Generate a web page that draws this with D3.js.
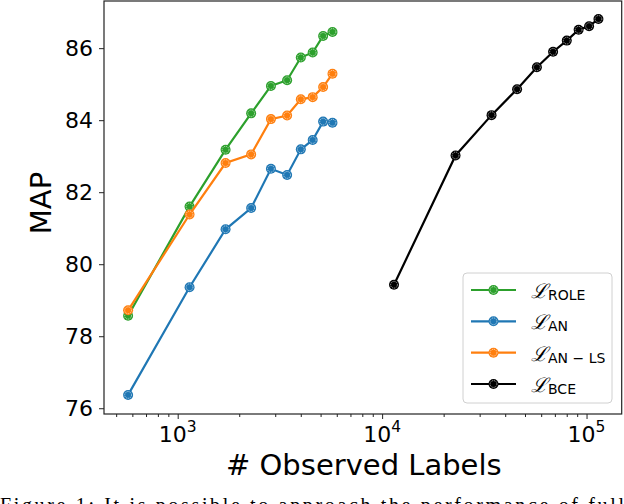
<!DOCTYPE html>
<html>
<head>
<meta charset="utf-8">
<script src="https://cdn.jsdelivr.net/npm/d3@7"></script>
<style>
body { margin: 0; background: #fff; }
svg { display: block; }
</style>
</head>
<body>
<script>
var width = 624, height = 504;

// observed labels (x) and MAP (y)
var partialX = [572, 1143, 1715, 2287, 2858, 3430, 4002, 4574, 5145, 5717];
var fullX = [11434, 22868, 34302, 45736, 57170, 68604, 80038, 91472, 102906, 114340];
var roleMap = [78.57, 81.60, 83.18, 84.19, 84.95, 85.11, 85.74, 85.88, 86.34, 86.45];
var anMap = [76.37, 79.36, 80.97, 81.56, 82.65, 82.48, 83.19, 83.45, 83.96, 83.93];
var anlsMap = [78.72, 81.38, 82.81, 83.05, 84.03, 84.13, 84.58, 84.64, 84.92, 85.29];
var bceMap = [79.43, 83.02, 84.14, 84.86, 85.47, 85.90, 86.21, 86.51, 86.61, 86.81];
var yTicks = [76, 78, 80, 82, 84, 86];
var xMajor = [1000, 10000, 100000];
var seriesNames = ["ROLE", "AN", "AN \u2212 LS", "BCE"];
var seriesColors = ["#2ca02c", "#1f77b4", "#ff7f0e", "#000000"];

var series = [
    {name: seriesNames[0], color: seriesColors[0], xs: partialX, ys: roleMap},
    {name: seriesNames[1], color: seriesColors[1], xs: partialX, ys: anMap},
    {name: seriesNames[2], color: seriesColors[2], xs: partialX, ys: anlsMap},
    {name: seriesNames[3], color: seriesColors[3], xs: fullX, ys: bceMap}
];

// plot box (note: "top" is taken by window.top)
var plotL = 104, plotR = 621.7, plotT = 1, plotB = 414;

var x = d3.scaleLog().domain([436, 148600]).range([plotL, plotR]);
var y = d3.scaleLinear().domain([75.84, 87.31]).range([plotB, plotT]);

var svg = d3.select("body")
.append("svg")
.attr("width", width)
.attr("height", height);

var font = "DejaVu Sans, sans-serif";

// plot lines + markers
var line = d3.line()
    .x(function(d){ return x(d[0]); })
    .y(function(d){ return y(d[1]); });

function drawMarker(g, cx, cy, color){
    g.append("circle")
        .attr("cx", cx).attr("cy", cy).attr("r", 5)
        .attr("fill", color);
    g.append("circle")
        .attr("cx", cx).attr("cy", cy).attr("r", 3.4)
        .attr("fill", "none")
        .attr("stroke", "#fff")
        .attr("stroke-width", 0.7)
        .attr("stroke-dasharray", "1.2,0.8")
        .attr("opacity", 0.85);
}

series.forEach(function(s){
    var pts = s.xs.map(function(v, i){ return [v, s.ys[i]]; });
    var g = svg.append("g");
    g.append("path")
        .datum(pts)
        .attr("d", line)
        .attr("fill", "none")
        .attr("stroke", s.color)
        .attr("stroke-width", 2.2);
    pts.forEach(function(p){
        drawMarker(g, x(p[0]), y(p[1]), s.color);
    });
});

// axes
var xTickVals = x.ticks().filter(function(v){ return v >= 436 && v <= 148600; });

var xAxis = svg.append("g")
    .attr("transform", "translate(0," + plotB + ")")
    .call(d3.axisBottom(x)
        .tickValues(xTickVals)
        .tickSize(3)
        .tickFormat(""));
xAxis.selectAll(".tick line")
    .attr("y2", function(d){ return xMajor.indexOf(d) >= 0 ? 5 : 3; })
    .attr("stroke", "#222");
xAxis.select(".domain").remove();

xMajor.forEach(function(v){
    var t = svg.append("text")
        .attr("x", x(v))
        .attr("y", 442)
        .attr("text-anchor", "middle")
        .attr("font-family", font)
        .attr("font-size", 22);
    t.append("tspan").text("10");
    t.append("tspan")
        .attr("dy", -10)
        .attr("font-size", 15.5)
        .text(Math.round(Math.log10(v)));
});

var yAxis = svg.append("g")
    .attr("transform", "translate(" + plotL + ",0)")
    .call(d3.axisLeft(y)
        .tickValues(yTicks)
        .tickSize(5)
        .tickPadding(6)
        .tickFormat(d3.format("d")));
yAxis.select(".domain").remove();
yAxis.selectAll(".tick line").attr("stroke", "#222");
yAxis.selectAll(".tick text")
    .attr("font-family", font)
    .attr("font-size", 22)
    .attr("fill", "#000");

// frame
svg.append("rect")
    .attr("x", plotL)
    .attr("y", plotT)
    .attr("width", plotR - plotL)
    .attr("height", plotB - plotT)
    .attr("fill", "none")
    .attr("stroke", "#222")
    .attr("stroke-width", 1.2);

// labels
svg.append("text")
    .attr("x", (plotL + plotR) / 2 + 1)
    .attr("y", 475)
    .attr("text-anchor", "middle")
    .attr("font-family", font)
    .attr("font-size", 29)
    .text("# Observed Labels");

svg.append("text")
    .attr("transform", "translate(51,203) rotate(-90)")
    .attr("text-anchor", "middle")
    .attr("font-family", font)
    .attr("font-size", 29)
    .text("MAP");

// legend
var legend = svg.append("g");
legend.append("rect")
    .attr("x", 463).attr("y", 273)
    .attr("width", 149).attr("height", 130)
    .attr("rx", 4)
    .attr("fill", "#fff")
    .attr("fill-opacity", 0.8)
    .attr("stroke", "#d0d0d0")
    .attr("stroke-width", 1);

var legendY = d3.scalePoint().domain(seriesNames).range([290, 384]);

series.forEach(function(s){
    var ly = legendY(s.name);
    legend.append("line")
        .attr("x1", 471).attr("x2", 516)
        .attr("y1", ly).attr("y2", ly)
        .attr("stroke", s.color)
        .attr("stroke-width", 2.2);
    drawMarker(legend, 493.5, ly, s.color);
    var t = legend.append("text")
        .attr("x", 531)
        .attr("y", ly + 8)
        .attr("font-family", font)
        .attr("fill", "#000");
    t.append("tspan")
        .attr("font-family", "DejaVu Serif, serif")
        .attr("font-style", "italic")
        .attr("font-size", 20)
        .text("\u2112");
    t.append("tspan")
        .attr("dy", 2)
        .attr("font-size", 14)
        .text(s.name);
});

// caption fragment at the bottom edge
svg.append("text")
    .attr("x", 0)
    .attr("y", 512)
    .attr("font-family", "Liberation Serif, Times New Roman, serif")
    .attr("font-size", 20)
    .attr("textLength", 624)
    .attr("lengthAdjust", "spacing")
    .text("Figure 1:  It is possible to approach the performance of full");
</script>
</body>
</html>
